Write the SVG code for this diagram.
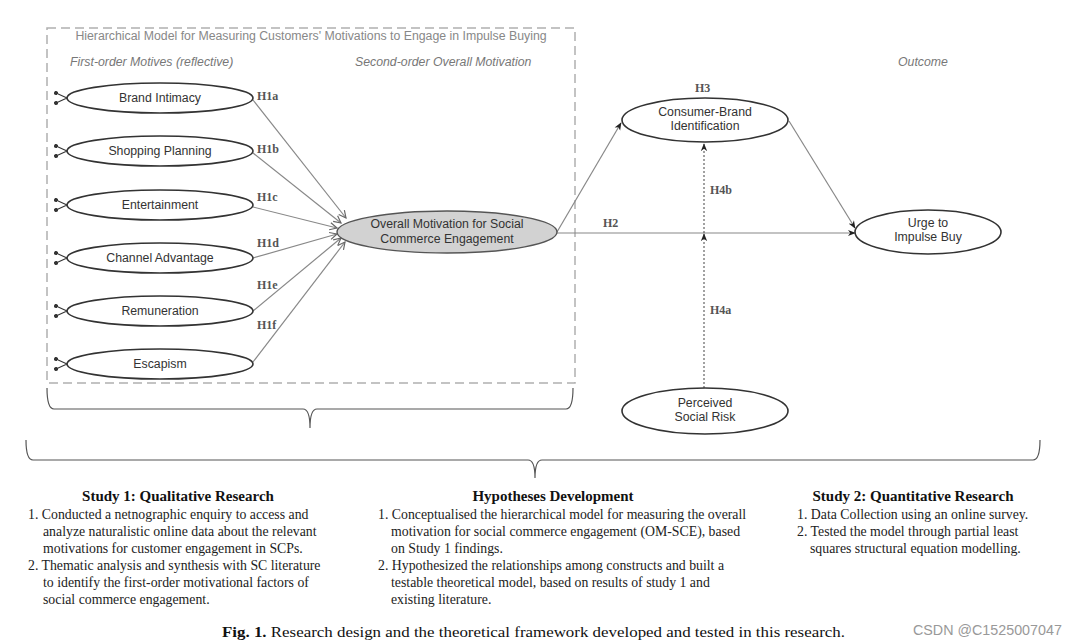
<svg xmlns="http://www.w3.org/2000/svg" width="1080" height="644" viewBox="0 0 1080 644">
<defs>
<marker id="arr" viewBox="0 0 10 10" refX="9" refY="5" markerWidth="9" markerHeight="9" orient="auto" markerUnits="userSpaceOnUse">
<path d="M1,1 L9,5 L1,9" fill="none" stroke="#666" stroke-width="1.3"/>
</marker>
<marker id="arrS" viewBox="0 0 10 10" refX="9" refY="5" markerWidth="8" markerHeight="8" orient="auto" markerUnits="userSpaceOnUse">
<path d="M0,1 L10,5 L0,9 L3,5 Z" fill="#222"/>
</marker>
<marker id="dot" viewBox="0 0 10 10" refX="5" refY="5" markerWidth="4" markerHeight="4" orient="auto" markerUnits="userSpaceOnUse">
<circle cx="5" cy="5" r="5" fill="#333"/>
</marker>
</defs>
<style>
.bg{fill:#fff}
.box{fill:none;stroke:#b0b0b0;stroke-width:1.5;stroke-dasharray:9 5}
.el{fill:#fff;stroke:#333;stroke-width:1.6}
.elg{fill:#d2d2d2;stroke:#555;stroke-width:1.4}
.lbl{font-family:"Liberation Sans",Arial,sans-serif;font-size:12.3px;fill:#333;text-anchor:middle}
.hdr{font-family:"Liberation Sans",Arial,sans-serif;font-size:12.3px;fill:#777;font-style:italic}
.ttl{font-family:"Liberation Sans",Arial,sans-serif;font-size:12.3px;fill:#888;text-anchor:middle}
.h{font-family:"Liberation Serif","Times New Roman",serif;font-size:12px;font-weight:bold;fill:#555}
.con{fill:none;stroke:#888;stroke-width:1.2}
.dash{fill:none;stroke:#555;stroke-width:1.1;stroke-dasharray:2 2}
.ind{fill:none;stroke:#333;stroke-width:1.1}
.brace{fill:none;stroke:#555;stroke-width:1.2}
.st{font-family:"Liberation Serif","Times New Roman",serif;font-size:15px;font-weight:bold;fill:#111;text-anchor:middle}
.tx{font-family:"Liberation Serif","Times New Roman",serif;font-size:13.8px;fill:#222}
.cap{font-family:"Liberation Serif","Times New Roman",serif;font-size:15.5px;fill:#111}
.wm{font-family:"Liberation Sans",Arial,sans-serif;font-size:14.3px;fill:#999}
</style>
<rect class="bg" x="0" y="0" width="1080" height="644"/>

<g id="hierarchical-box">
<rect class="box" x="47" y="28" width="528" height="355"/>
<text class="ttl" x="311" y="40">Hierarchical Model for Measuring Customers' Motivations to Engage in Impulse Buying</text>
<text class="hdr" x="70" y="66">First-order Motives (reflective)</text>
<text class="hdr" x="355" y="66">Second-order Overall Motivation</text>
</g>
<text class="hdr" x="898" y="66">Outcome</text>

<g id="connectors">
<line class="con" x1="253" y1="100" x2="346" y2="218" marker-end="url(#arr)"/>
<line class="con" x1="253" y1="153" x2="341" y2="223" marker-end="url(#arr)"/>
<line class="con" x1="253" y1="207" x2="337" y2="228" marker-end="url(#arr)"/>
<line class="con" x1="253" y1="258" x2="337" y2="234" marker-end="url(#arr)"/>
<line class="con" x1="253" y1="311" x2="341" y2="238" marker-end="url(#arr)"/>
<line class="con" x1="253" y1="362" x2="345" y2="242" marker-end="url(#arr)"/>
<line class="con" x1="557" y1="232" x2="621" y2="123" marker-end="url(#arrS)"/>
<line class="con" x1="789" y1="121" x2="855" y2="228" marker-end="url(#arrS)"/>
<line class="con" x1="557" y1="233" x2="855" y2="233" marker-end="url(#arrS)"/>
<line class="dash" x1="704" y1="233" x2="704" y2="144" marker-end="url(#arrS)"/>
<line class="dash" x1="704" y1="388" x2="704" y2="234" marker-end="url(#arrS)"/>
<text class="h" x="257" y="100">H1a</text>
<text class="h" x="257" y="153">H1b</text>
<text class="h" x="257" y="201">H1c</text>
<text class="h" x="257" y="247">H1d</text>
<text class="h" x="257" y="289">H1e</text>
<text class="h" x="257" y="329">H1f</text>
<text class="h" x="695" y="92">H3</text>
<text class="h" x="603" y="227">H2</text>
<text class="h" x="710" y="194">H4b</text>
<text class="h" x="710" y="314">H4a</text>
</g>

<g id="brand-intimacy">
<path class="ind" d="M56,93 L67,98 L56,103" marker-start="url(#dot)" marker-end="url(#dot)"/>
<ellipse class="el" cx="160" cy="98" rx="93" ry="15"/>
<text class="lbl" x="160" y="102">Brand Intimacy</text>
</g>
<g id="shopping-planning">
<path class="ind" d="M56,146 L67,151 L56,156" marker-start="url(#dot)" marker-end="url(#dot)"/>
<ellipse class="el" cx="160" cy="151" rx="93" ry="15"/>
<text class="lbl" x="160" y="155">Shopping Planning</text>
</g>
<g id="entertainment">
<path class="ind" d="M56,200 L67,205 L56,210" marker-start="url(#dot)" marker-end="url(#dot)"/>
<ellipse class="el" cx="160" cy="205" rx="93" ry="15"/>
<text class="lbl" x="160" y="209">Entertainment</text>
</g>
<g id="channel-advantage">
<path class="ind" d="M56,253 L67,258 L56,263" marker-start="url(#dot)" marker-end="url(#dot)"/>
<ellipse class="el" cx="160" cy="258" rx="93" ry="15"/>
<text class="lbl" x="160" y="262">Channel Advantage</text>
</g>
<g id="remuneration">
<path class="ind" d="M56,306 L67,311 L56,316" marker-start="url(#dot)" marker-end="url(#dot)"/>
<ellipse class="el" cx="160" cy="311" rx="93" ry="15"/>
<text class="lbl" x="160" y="315">Remuneration</text>
</g>
<g id="escapism">
<path class="ind" d="M56,359 L67,364 L56,369" marker-start="url(#dot)" marker-end="url(#dot)"/>
<ellipse class="el" cx="160" cy="364" rx="93" ry="15"/>
<text class="lbl" x="160" y="368">Escapism</text>
</g>

<g id="overall-motivation">
<ellipse class="elg" cx="447" cy="232" rx="110" ry="21"/>
<text class="lbl" x="447" y="228">Overall Motivation for Social</text>
<text class="lbl" x="447" y="243">Commerce Engagement</text>
</g>
<g id="consumer-brand-identification">
<ellipse class="el" cx="705" cy="120" rx="83" ry="22"/>
<text class="lbl" x="705" y="116">Consumer-Brand</text>
<text class="lbl" x="705" y="130">Identification</text>
</g>
<g id="urge-to-impulse-buy">
<ellipse class="el" cx="928" cy="232" rx="73" ry="22"/>
<text class="lbl" x="928" y="227">Urge to</text>
<text class="lbl" x="928" y="241">Impulse Buy</text>
</g>
<g id="perceived-social-risk">
<ellipse class="el" cx="705" cy="411" rx="83" ry="23"/>
<text class="lbl" x="705" y="407">Perceived</text>
<text class="lbl" x="705" y="421">Social Risk</text>
</g>

<g id="braces">
<path class="brace" d="M47,388 Q47,409 54,409 L303,409 Q310,409 310,428 Q310,409 317,409 L566,409 Q573,409 573,388"/>
<path class="brace" d="M26,440 Q26,460 33,460 L528,460 Q535,460 535,478 Q535,460 542,460 L1033,460 Q1040,460 1040,440"/>
</g>

<g id="study1">
<text class="st" x="178" y="501">Study 1: Qualitative Research</text>
<text class="tx" x="28" y="519">1. Conducted a netnographic enquiry to access and</text>
<text class="tx" x="43" y="536">analyze naturalistic online data about the relevant</text>
<text class="tx" x="43" y="553">motivations for customer engagement in SCPs.</text>
<text class="tx" x="28" y="570">2. Thematic analysis and synthesis with SC literature</text>
<text class="tx" x="43" y="587">to identify the first-order motivational factors of</text>
<text class="tx" x="43" y="604">social commerce engagement.</text>
</g>
<g id="hypotheses">
<text class="st" x="553" y="501">Hypotheses Development</text>
<text class="tx" x="378" y="519">1. Conceptualised the hierarchical model for measuring the overall</text>
<text class="tx" x="391" y="536">motivation for social commerce engagement (OM-SCE), based</text>
<text class="tx" x="391" y="553">on Study 1 findings.</text>
<text class="tx" x="378" y="570">2. Hypothesized the relationships among constructs and built a</text>
<text class="tx" x="391" y="587">testable theoretical model, based on results of study 1 and</text>
<text class="tx" x="391" y="604">existing literature.</text>
</g>
<g id="study2">
<text class="st" x="913" y="501">Study 2: Quantitative Research</text>
<text class="tx" x="797" y="519">1. Data Collection using an online survey.</text>
<text class="tx" x="797" y="536">2. Tested the model through partial least</text>
<text class="tx" x="810" y="553">squares structural equation modelling.</text>
</g>

<text class="cap" x="222" y="637" textLength="623" lengthAdjust="spacingAndGlyphs"><tspan font-weight="bold">Fig. 1.</tspan> Research design and the theoretical framework developed and tested in this research.</text>
<text class="wm" x="913" y="635">CSDN @C1525007047</text>
</svg>
